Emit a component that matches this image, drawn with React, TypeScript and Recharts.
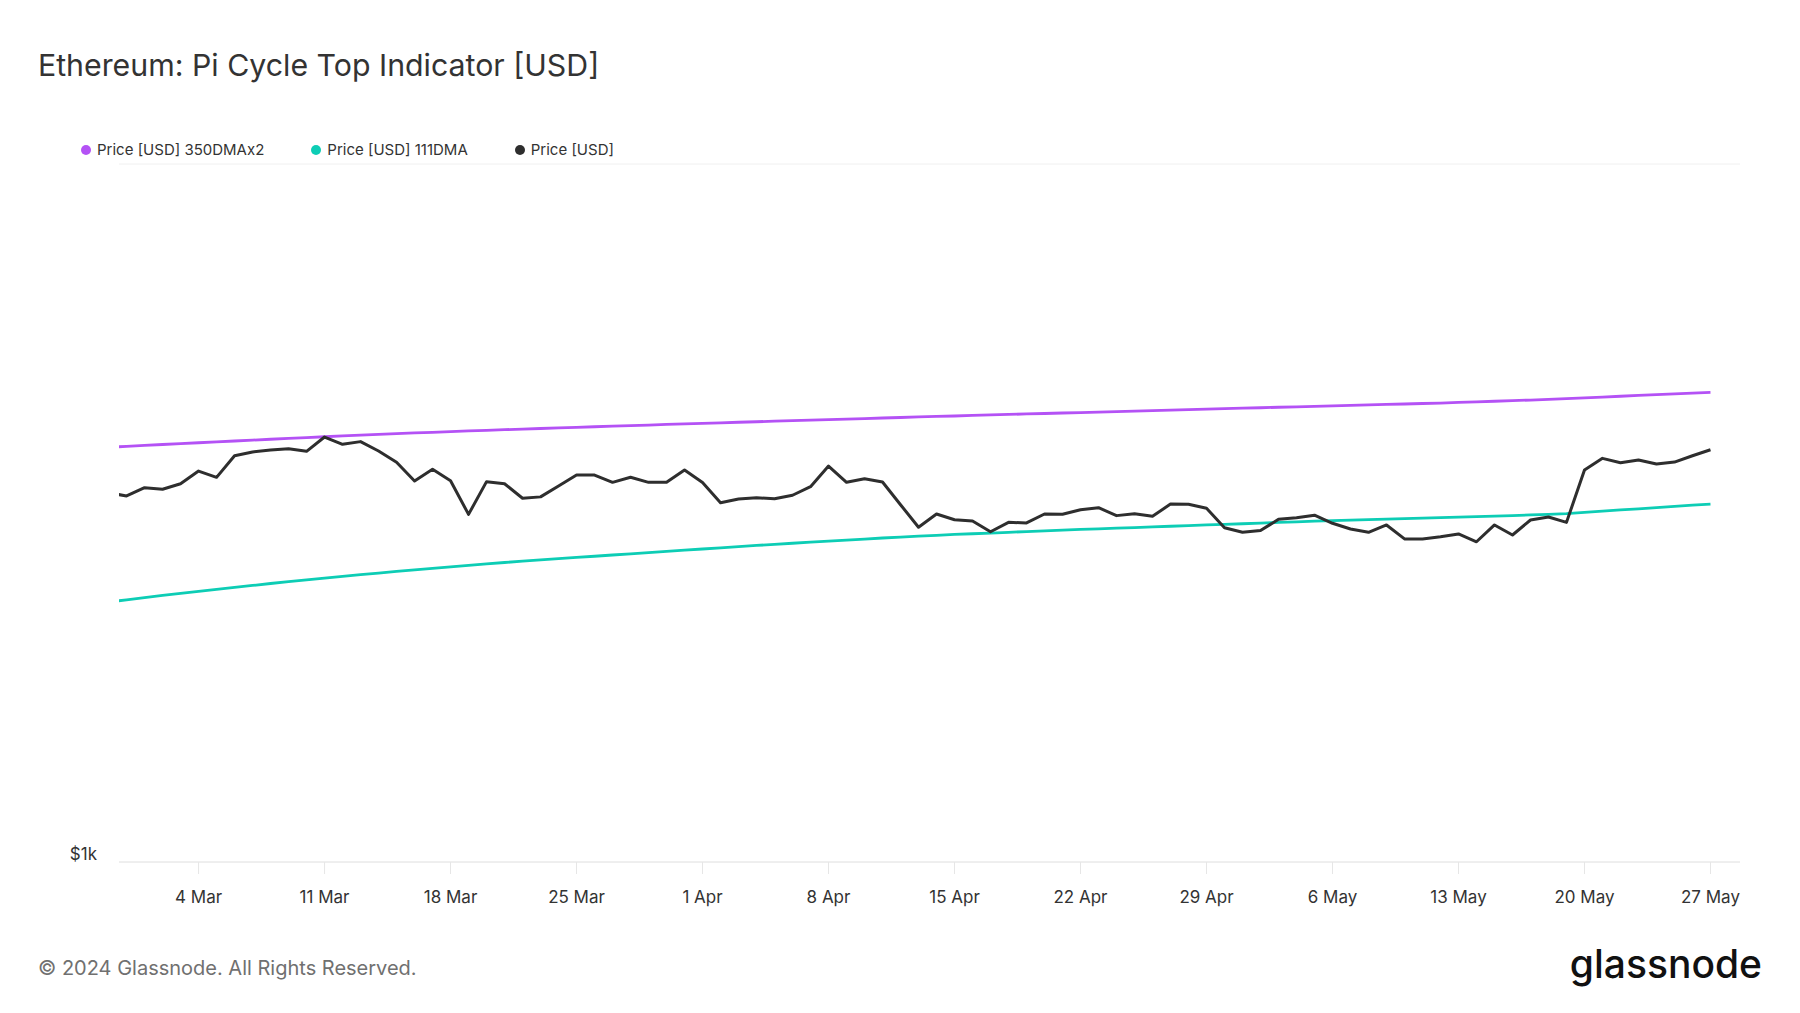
import React from "react";
import { LineChart, Line, XAxis, YAxis, CartesianGrid } from "recharts";

// daily points, first one is 28 Feb 2024 (UTC)
const START_DAY = Date.UTC(2024, 1, 28);
const DAY = 86400000;

const price = [
  3380, 3345, 3438, 3420, 3483, 3631, 3557, 3820, 3868, 3892, 3910, 3876,
  4063, 3966, 4002, 3880, 3738, 3515, 3652, 3518, 3148, 3507, 3483, 3320,
  3335, 3457, 3584, 3584, 3499, 3558, 3499, 3499, 3644, 3496, 3272, 3312,
  3325, 3315, 3353, 3449, 3692, 3499, 3541, 3503, 3250, 3017, 3152, 3093,
  3080, 2973, 3066, 3060, 3152, 3149, 3197, 3218, 3135, 3155, 3128, 3257,
  3255, 3212, 3012, 2967, 2984, 3097, 3114, 3140, 3057, 3000, 2967, 3040,
  2903, 2903, 2924, 2951, 2876, 3040, 2941, 3090, 3121, 3066, 3644, 3787,
  3733, 3767, 3717, 3741, 3820, 3896,
];

const dma350x2 = [
  3928, 3940, 3952, 3964, 3976, 3987, 3999, 4010, 4022, 4033, 4045, 4056,
  4067, 4078, 4088, 4098, 4108, 4118, 4127, 4136, 4145, 4154, 4163, 4171,
  4179, 4187, 4195, 4203, 4211, 4219, 4227, 4235, 4243, 4250, 4258, 4266,
  4273, 4281, 4288, 4296, 4303, 4311, 4318, 4326, 4333, 4341, 4348, 4355,
  4363, 4370, 4377, 4384, 4391, 4398, 4405, 4412, 4419, 4426, 4433, 4440,
  4447, 4454, 4461, 4468, 4475, 4482, 4489, 4496, 4503, 4510, 4517, 4524,
  4531, 4538, 4545, 4554, 4563, 4572, 4581, 4590, 4599, 4612, 4624, 4636,
  4648, 4660, 4672, 4684, 4696, 4708,
];

const dma111 = [
  2357, 2375, 2392, 2409, 2426, 2442, 2458, 2474, 2490, 2506, 2521, 2536,
  2551, 2566, 2580, 2594, 2608, 2622, 2635, 2648, 2661, 2674, 2686, 2698,
  2709, 2720, 2731, 2742, 2753, 2764, 2775, 2786, 2797, 2808, 2819, 2830,
  2841, 2852, 2862, 2872, 2882, 2892, 2902, 2912, 2921, 2930, 2938, 2946,
  2953, 2960, 2967, 2974, 2982, 2988, 2995, 3001, 3008, 3014, 3020, 3027,
  3033, 3040, 3046, 3052, 3059, 3065, 3072, 3078, 3083, 3089, 3094, 3099,
  3104, 3109, 3114, 3119, 3124, 3130, 3136, 3142, 3148, 3155, 3168, 3181,
  3194, 3206, 3219, 3232, 3245, 3257,
];

const tickDates = [
  "2024-03-04", "2024-03-11", "2024-03-18", "2024-03-25", "2024-04-01",
  "2024-04-08", "2024-04-15", "2024-04-22", "2024-04-29", "2024-05-06",
  "2024-05-13", "2024-05-20", "2024-05-27",
];
const MONTHS = ["Jan", "Feb", "Mar", "Apr", "May", "Jun", "Jul", "Aug", "Sep", "Oct", "Nov", "Dec"];

const series = [
  { key: "top", name: "Price [USD] 350DMAx2", color: "#b452f5" },
  { key: "ma111", name: "Price [USD] 111DMA", color: "#0dcdb5" },
  { key: "price", name: "Price [USD]", color: "#2e2e2e" },
];

const data = price.map((p, i) => ({
  ts: START_DAY + i * DAY,
  price: p,
  top: dma350x2[i],
  ma111: dma111[i],
}));

const xTicks = tickDates.map((d) => Date.parse(d + "T00:00:00Z"));
const xDomain = [Date.UTC(2024, 1, 29) - 0.42 * DAY, Date.UTC(2024, 4, 27) + 1.64 * DAY];

const fmtDate = (t: number) => {
  const d = new Date(t);
  return `${d.getUTCDate()} ${MONTHS[d.getUTCMonth()]}`;
};

const YTick = (props: any) => {
  const { x, y, payload } = props;
  if (payload.value !== 1000) return <g />;
  return (
    <text x={x} y={y - 2} textAnchor="end" fontSize={17} fill="#333" fontFamily="Inter">
      $1k
    </text>
  );
};

export default function App() {
  return (
    <div
      style={{
        position: "absolute",
        left: 0,
        top: 0,
        width: 1800,
        height: 1013,
        background: "#fff",
        fontFamily: "Inter, sans-serif",
        overflow: "hidden",
      }}
    >
      <div style={{ position: "absolute", left: 38, top: 50, fontSize: 30.3, lineHeight: 1, color: "#333" }}>
        Ethereum: Pi Cycle Top Indicator [USD]
      </div>

      <div
        style={{
          position: "absolute",
          left: 81,
          top: 141,
          display: "flex",
          gap: 47,
          fontSize: 15,
          lineHeight: "18px",
          color: "#333",
        }}
      >
        {series.map((s) => (
          <div key={s.key} style={{ display: "flex", alignItems: "center" }}>
            <span
              style={{ width: 10, height: 10, borderRadius: 5, background: s.color, marginRight: 6, display: "inline-block" }}
            />
            {s.name}
          </div>
        ))}
      </div>

      <div style={{ position: "absolute", left: 0, top: 0 }}>
        <LineChart width={1800} height={1013} data={data} margin={{ top: 164, right: 60, left: 0, bottom: 91 }}>
          <CartesianGrid vertical={false} stroke="#f0f0f0" />
          <XAxis
            dataKey="ts"
            type="number"
            scale="time"
            domain={xDomain}
            allowDataOverflow
            ticks={xTicks}
            tickFormatter={fmtDate}
            height={60}
            tickSize={12}
            tickMargin={17}
            stroke="#e6e6e6"
            tick={{ fill: "#333", fontSize: 17, fontFamily: "Inter" }}
          />
          <YAxis
            type="number"
            scale="log"
            domain={[1000, 10000]}
            allowDataOverflow
            ticks={[1000, 10000]}
            width={119}
            tickSize={0}
            tickMargin={22}
            axisLine={false}
            tickLine={false}
            tick={<YTick />}
          />
          {series.map((s) => (
            <Line
              key={s.key}
              dataKey={s.key}
              name={s.name}
              stroke={s.color}
              strokeWidth={s.key === "price" ? 3 : 2.8}
              strokeLinejoin="round"
              dot={false}
              activeDot={false}
              type="linear"
              isAnimationActive={false}
            />
          ))}
        </LineChart>
      </div>

      <div style={{ position: "absolute", left: 38, top: 956, fontSize: 20, lineHeight: "24px", color: "#707070" }}>
        © 2024 Glassnode. All Rights Reserved.
      </div>
      <div
        style={{
          position: "absolute",
          right: 38,
          top: 942,
          fontSize: 39,
          fontWeight: 500,
          letterSpacing: 0,
          lineHeight: "44px",
          color: "#111",
        }}
      >
        glassnode
      </div>
    </div>
  );
}
